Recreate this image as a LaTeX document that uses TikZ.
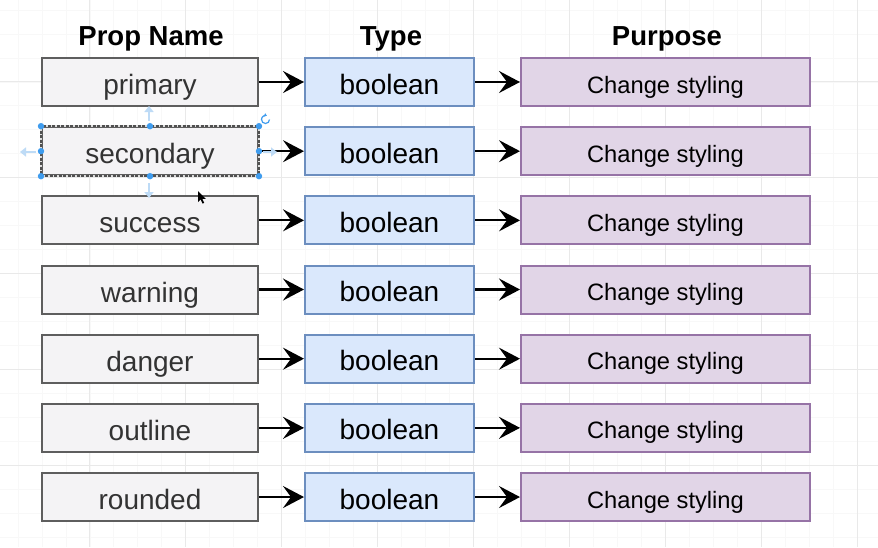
\documentclass[tikz,border=0pt]{standalone}
\usepackage{fontspec}
\setmainfont{Liberation Sans}
\usetikzlibrary{arrows.meta}

\definecolor{gridmajor}{HTML}{E9E9E9}
\definecolor{gridminor}{HTML}{F8F8F8}
\definecolor{propfill}{HTML}{F4F3F5}
\definecolor{propdraw}{HTML}{5E5E5E}
\definecolor{proptext}{HTML}{333333}
\definecolor{typefill}{HTML}{DAE8FC}
\definecolor{typedraw}{HTML}{6C8EBF}
\definecolor{purpfill}{HTML}{E1D5E7}
\definecolor{purpdraw}{HTML}{9673A6}
\definecolor{handleblue}{HTML}{3F9CEE}
\definecolor{hintblue}{HTML}{BEDBF6}

\tikzset{
  boxbase/.style={rectangle, inner sep=0pt, minimum height=48pt, line width=2pt, text depth=0pt},
  propbox/.style={boxbase, fill=propfill, draw=propdraw, text=proptext, minimum width=216pt,
    text height=25pt, font=\fontsize{28}{32}\selectfont},
  typebox/.style={boxbase, fill=typefill, draw=typedraw, text=black, minimum width=169pt,
    text height=24pt, font=\fontsize{28}{32}\selectfont},
  purpbox/.style={boxbase, fill=purpfill, draw=purpdraw, text=black, minimum width=289pt,
    text height=22pt, font=\fontsize{23.7}{28}\selectfont},
  head/.style={anchor=base, inner sep=0pt, font=\fontsize{27.5}{30}\selectfont\bfseries},
  conn/.style={line width=2.2pt, -{Stealth[length=21pt,width=22pt,inset=8pt]}},
  hint/.style={hintblue, line width=2.6pt, -{Triangle[length=6pt,width=9pt]}},
}

\begin{document}
\begin{tikzpicture}[x=1pt,y=-1pt]
  \fill[white] (0,0) rectangle (878,547);
  \useasboundingbox (0,0) rectangle (878,547);

  % background grid: faint minor lines, stronger major lines every fourth
  \foreach \i in {0,...,37}
    \draw[gridminor, line width=0.8pt] ({-6+23.975*\i},0) -- ({-6+23.975*\i},547);
  \foreach \j in {0,...,24}
    \draw[gridminor, line width=0.8pt] (0,{-14+23.975*\j}) -- (878,{-14+23.975*\j});
  \foreach \i in {0,...,9}
    \draw[gridmajor, line width=1pt] ({-6+95.9*\i},0) -- ({-6+95.9*\i},547);
  \foreach \j in {0,...,6}
    \draw[gridmajor, line width=1pt] (0,{-14+95.9*\j}) -- (878,{-14+95.9*\j});

  % column headings
  \node[head] (hprop) at (151,45) {Prop Name};
  \node[head] (htype) at (391,45) {Type};
  \node[head] (hpurp) at (667,45) {Purpose};

  % one row per prop
  \foreach \lbl [count=\r from 0] in {primary,secondary,success,warning,danger,outline,rounded} {
    \pgfmathsetmacro\yy{82+69.17*\r}
    \node[propbox] (p\r) at (150,\yy) {\lbl};
    \node[typebox] (t\r) at (389.5,\yy) {boolean};
    \node[purpbox] (u\r) at (665.5,\yy) {Change styling};
    \draw[conn] (p\r) -- (t\r);
    \draw[conn] (t\r) -- (u\r);
  }

  % selection state of the "secondary" box
  \draw[white!80!propdraw, line width=2pt] (p1.north west) rectangle (p1.south east);
  \draw[propdraw!85!black, line width=2pt, dash pattern=on 3pt off 1.5pt] (p1.north west) rectangle (p1.south east);
  \draw[hint] (149,121) -- (149,106);
  \draw[hint] (149,183) -- (149,198);
  \draw[hint] (36,152) -- (20,152);
  \draw[hint] (263,152) -- (277,152);
  \foreach \a in {north west,north,north east,east,south east,south,south west,west}
    \fill[handleblue] (p1.\a) circle (3.2);
  \draw[handleblue, line width=1.2pt, -{Triangle[length=2.5pt,width=3.5pt]}]
    (269.5,119.5) arc[start angle=0, end angle=290, radius=4];

  % mouse pointer
  \fill[black] (198,191) -- (198,202) -- (200.6,199.4) -- (202.6,203.6) -- (204.2,202.9)
    -- (202.3,198.8) -- (205.8,198.8) -- cycle;
\end{tikzpicture}
\end{document}
